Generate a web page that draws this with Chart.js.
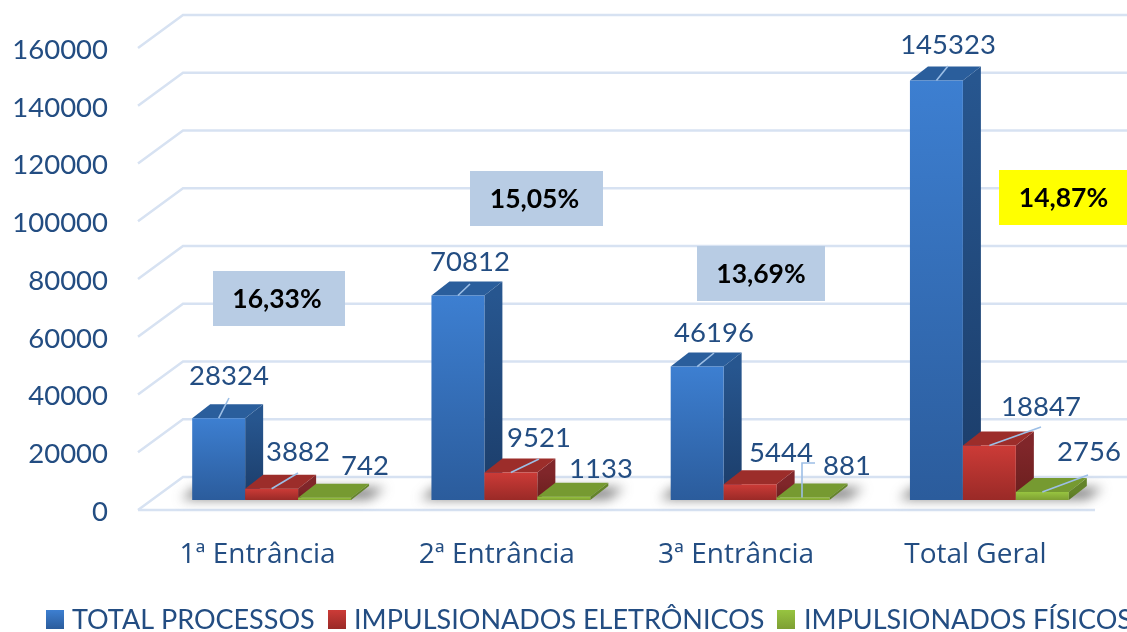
<!DOCTYPE html>
<html><head><meta charset="utf-8">
<style>html,body{margin:0;padding:0;background:#fff;overflow:hidden}canvas{display:block}</style>
<script src="https://cdn.jsdelivr.net/npm/chart.js@4"></script>
</head><body><canvas id="c" width="1127" height="632"></canvas>
<script>
const categories = ['1ª Entrância','2ª Entrância','3ª Entrância','Total Geral'];
const totalProcessos = [28324,70812,46196,145323];
const impulsionadosEletronicos = [3882,9521,5444,18847];
const impulsionadosFisicos = [742,1133,881,2756];
const percentLabels = ['16,33%','15,05%','13,69%','14,87%'];
const seriesNames = ['TOTAL PROCESSOS','IMPULSIONADOS ELETRÔNICOS','IMPULSIONADOS FÍSICOS'];
const yTicks = [0,20000,40000,60000,80000,100000,120000,140000,160000];

const TEXT='#234d82', GRID='#d7e2f2', FONT='Lato';
const pal=[
 {f:['#3d7fd1','#2b5c9c'],t:'#2a5e9c',s:['#27568f','#1b3c68']},
 {f:['#cc3b37','#9a2a27'],t:'#9c2d2a',s:['#80262a','#6a1f1d']},
 {f:['#97c440','#7e9f33'],t:'#769a31',s:['#64842a','#587524']}
];
// layout of the 3D look (px)
const SHIFT={x:14,y:-10}, DEPTH={x:18,y:-14}, WALL={x:45,y:-33};
const boxes=[[213,271,132,55],[470,171,133,55],[697,246,128,55],[999,170,130,55]];
const boxTextX=[277,534.5,761,1063.5];
const boxFill=['#b8cce4','#b8cce4','#b8cce4','#ffff00'];
const labelAt=[
 [[229,376],[470,262],[714,333],[948,45]],
 [[298,452],[539,438],[781,453],[1041,407]],
 [[365,466],[601,469],[847,466],[1089,452]]
];
const leaders=[
 [[229,398],[470,284],[714,353],[948,66]],
 [[298,473],[539,459],null,[1041,427]],
 [null,null,[815,463],[1088,475]]
];

function vGrad(ctx,y0,y1,c){const g=ctx.createLinearGradient(0,y0,0,y1);g.addColorStop(0,c[0]);g.addColorStop(1,c[1]);return g;}

const scene={
 id:'scene',
 beforeDraw(chart){
  chart.scales.y.getLabelItems().forEach(it=>{ if(!it._moved){it.textOffset+=2;it._moved=true;} });
  chart.scales.x.getLabelItems().forEach(it=>{ if(!it._moved){it.textOffset+=1;it._moved=true;} });
 },
 beforeDatasetsDraw(chart){
  const {ctx,scales:{x,y},chartArea:a}=chart;
  ctx.save();ctx.strokeStyle=GRID;ctx.lineWidth=2.5;
  y.ticks.forEach(t=>{
   const p=y.getPixelForValue(t.value);
   ctx.beginPath();ctx.moveTo(a.left,p);ctx.lineTo(a.left+WALL.x,p+WALL.y);ctx.lineTo(1127,p+WALL.y);ctx.stroke();
  });
  const b=y.getPixelForValue(0);
  ctx.beginPath();ctx.moveTo(a.left,b);ctx.lineTo(a.right,b);ctx.stroke();
  ctx.restore();
  ctx.save();ctx.translate(SHIFT.x,SHIFT.y);
  const metas=[0,1,2].map(i=>chart.getDatasetMeta(i));
  categories.forEach((c,i)=>{
   const l=metas[0].data[i], r=metas[2].data[i];
   const x0=l.x-l.width/2-11, x1=r.x+r.width/2+32, yb=y.getPixelForValue(0);
   ctx.save();ctx.filter='blur(6px)';ctx.fillStyle='rgba(70,70,70,.72)';
   ctx.beginPath();ctx.moveTo(x0,yb-1);ctx.lineTo(x1-14,yb-1);ctx.lineTo(x1+2,yb-12);ctx.lineTo(x0+14,yb-12);ctx.closePath();ctx.fill();ctx.restore();
  });
  metas.forEach((m,s)=>{
   m.data.forEach(el=>{
    const x0=el.x-el.width/2,x1=el.x+el.width/2,yt=el.y,yb=el.base;
    ctx.fillStyle=vGrad(ctx,yt,yb,pal[s].s);
    ctx.beginPath();ctx.moveTo(x1,yt);ctx.lineTo(x1+DEPTH.x,yt+DEPTH.y);ctx.lineTo(x1+DEPTH.x,yb+DEPTH.y);ctx.lineTo(x1,yb);ctx.closePath();ctx.fill();
    ctx.fillStyle=pal[s].t;
    ctx.beginPath();ctx.moveTo(x0,yt);ctx.lineTo(x1,yt);ctx.lineTo(x1+DEPTH.x,yt+DEPTH.y);ctx.lineTo(x0+DEPTH.x,yt+DEPTH.y);ctx.closePath();ctx.fill();
    el.draw(ctx,a);
   });
  });
  ctx.restore();
  return false;
 },
 afterDraw(chart){
  const {ctx}=chart;
  ctx.save();
  ctx.strokeStyle='#9dbfe6';ctx.lineWidth=1.6;
  [0,1,2].forEach(s=>chart.getDatasetMeta(s).data.forEach((el,i)=>{
   const e=leaders[s][i]; if(!e) return;
   const sx=el.x+SHIFT.x, sy=el.y+SHIFT.y;
   ctx.beginPath();ctx.moveTo(sx,sy);
   if(s===2&&i===2){ctx.moveTo(e[0]-13,sy);ctx.lineTo(e[0]-13,e[1]);ctx.lineTo(e[0],e[1]);}
   else ctx.lineTo(e[0],e[1]);
   ctx.stroke();
  }));
  ctx.font='27.5px '+FONT;ctx.fillStyle=TEXT;ctx.textAlign='center';ctx.textBaseline='middle';
  chart.data.datasets.forEach((d,s)=>d.data.forEach((v,i)=>{
   ctx.fillText(String(v),labelAt[s][i][0],labelAt[s][i][1]);
  }));
  percentLabels.forEach((t,i)=>{
   const b=boxes[i];ctx.fillStyle=boxFill[i];ctx.fillRect(b[0],b[1],b[2],b[3]);
   ctx.fillStyle='#000';ctx.font='bold 26.5px '+FONT;
   ctx.fillText(t,boxTextX[i],b[1]+b[3]/2+1);
  });
  ctx.textAlign='left';ctx.font='27px '+FONT;
  const xs=[[46,72],[328,354],[777,804]];
  seriesNames.forEach((n,s)=>{
   ctx.fillStyle=vGrad(ctx,610,629,pal[s].f);ctx.fillRect(xs[s][0],610,18,19);
   ctx.fillStyle=TEXT;ctx.fillText(n,xs[s][1],620);
  });
  ctx.restore();
 }
};

const mk=(label,data,s)=>({label,data,borderWidth:0,
 backgroundColor(c){
  const y=c.chart.scales.y;
  if(c.type!=='data'||!y) return pal[s].f[0];
  const t=y.getPixelForValue(data[c.dataIndex]),b=y.getPixelForValue(0);
  if(!isFinite(t)||!isFinite(b)) return pal[s].f[0];
  return vGrad(c.chart.ctx,t,b,pal[s].f);
 }});

new Chart(document.getElementById('c'),{
 type:'bar',
 data:{labels:categories,datasets:[
  mk(seriesNames[0],totalProcessos,0),
  mk(seriesNames[1],impulsionadosEletronicos,1),
  mk(seriesNames[2],impulsionadosFisicos,2)
 ]},
 options:{
  responsive:false,animation:false,events:[],
  layout:{padding:{left:0,top:48,right:32,bottom:0}},
  datasets:{bar:{categoryPercentage:0.664,barPercentage:1}},
  plugins:{legend:{display:false},tooltip:{enabled:false}},
  scales:{
   x:{grid:{display:false,drawTicks:false},border:{display:false},
      ticks:{color:TEXT,font:{family:'"Open Sans"',size:28},padding:27,maxRotation:0},
      afterFit(s){s.height=122;}},
   y:{min:0,max:160000,grid:{display:false,drawTicks:false},border:{display:false},
      afterBuildTicks(s){s.ticks=yTicks.map(v=>({value:v}));},
      ticks:{color:TEXT,font:{family:FONT,size:27.5},padding:30,callback:v=>String(v)},
      afterFit(s){s.width=138;}}
  }
 },
 plugins:[scene]
});
</script></body></html>
